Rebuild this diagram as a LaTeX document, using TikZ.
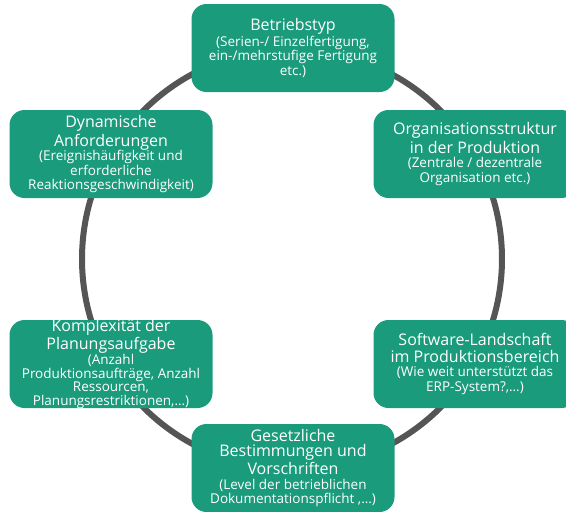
\documentclass[tikz,border=0pt]{standalone}
\usepackage{fontspec}
\setmainfont{Open Sans}
\definecolor{feldgruen}{RGB}{26,155,124}
\definecolor{ringgrau}{RGB}{85,85,85}
\newcommand{\kopf}[1]{{\fontsize{16}{17}\selectfont #1}}

\begin{document}
\begin{tikzpicture}[x=1pt,y=-1pt,
    feld/.style={fill=feldgruen, rounded corners=15pt, text=white, align=center,
      inner sep=0pt, minimum width=203pt, minimum height=88pt,
      font=\fontsize{13.5}{14.5}\selectfont}]
  \useasboundingbox (0,0) rectangle (566,512);
  \coordinate (mitte) at (292,259);
  \draw [ringgrau, line width=6pt] (mitte) circle [radius=210pt];
  \node [feld] (typ) at (293,48) {\kopf{Betriebstyp}\\[1pt]
    (Serien-/ Einzelfertigung,\\ ein-/mehrstufige Fertigung\\ etc.)};
  \node [feld] (orga) at (475,154) {\kopf{Organisationsstruktur}\\[2pt]
    \kopf{in der Produktion}\\ (Zentrale / dezentrale\\ Organisation etc.)};
  \node [feld] (software) at (475,364) {\kopf{Software-Landschaft}\\[2pt]
    \kopf{im Produktionsbereich}\\ (Wie weit unterstützt das\\ ERP-System?,…)};
  \node [feld] (gesetz) at (293,468) {\kopf{Gesetzliche}\\[1pt]
    \kopf{Bestimmungen und}\\[1pt] \kopf{Vorschriften}\\
    (Level der betrieblichen\\ Dokumentationspflicht ,…)};
  \node [feld, inner ysep=-4pt, font=\fontsize{13.5}{13.5}\selectfont] (komplex)
    at (111,364) {\kopf{Komplexität der}\\[1pt]
    \kopf{Planungsaufgabe}\\ (Anzahl\\ Produktionsaufträge, Anzahl\\
    Ressourcen,\\ Planungsrestriktionen,…)};
  \node [feld] (dynamik) at (111,154) {\kopf{Dynamische}\\[2pt]
    \kopf{Anforderungen}\\ (Ereignishäufigkeit und\\ erforderliche\\
    Reaktionsgeschwindigkeit)};
\end{tikzpicture}
\end{document}
